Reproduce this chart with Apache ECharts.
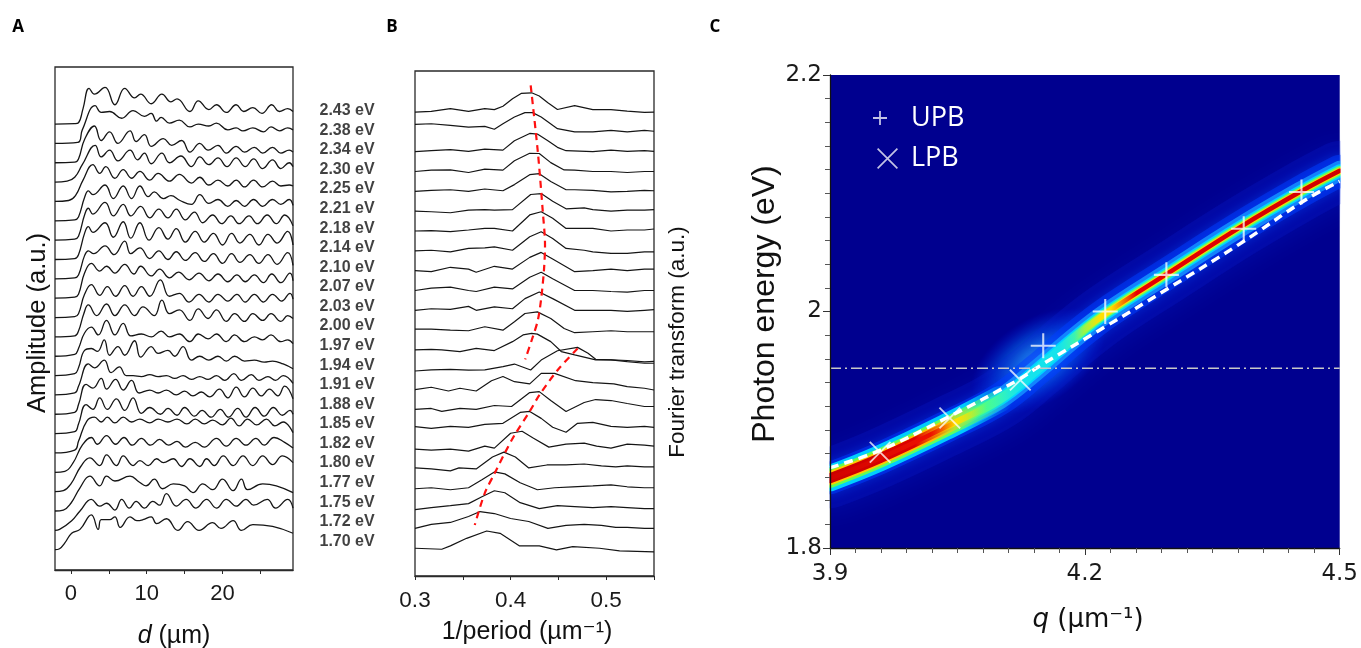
<!DOCTYPE html>
<html><head><meta charset="utf-8">
<script src="https://cdn.jsdelivr.net/npm/echarts@6/dist/echarts.min.js"></script>
<style>html,body{margin:0;padding:0;background:#fff}#c{width:1361px;height:648px}</style>
</head><body><div id="c"></div>
<script>
// ---------- Panel labels ----------
const energies = ['2.43','2.38','2.34','2.30','2.25','2.21','2.18','2.14','2.10','2.07','2.03','2.00','1.97','1.94','1.91','1.88','1.85','1.82','1.80','1.77','1.75','1.72','1.70'];

// ---------- Panel A: amplitude vs d (um), offset by trace ----------
const a243 = [[-2.1,0],[0.5,0.02],[1.0,0.07],[1.6,0.8],[2.4,1.85],[3.1,1.55],[4.5,1.9],[5.8,1.0],[7.1,1.85],[8.4,1.35],[9.2,1.55],[10.6,1.05],[12.0,1.55],[13.2,1.15],[14.0,1.3],[15.7,0.65],[16.8,1.2],[18.2,0.75],[19.2,1.0],[20.5,0.6],[21.8,1.0],[22.8,0.65],[24.0,0.85],[25.2,0.55],[26.5,1.0],[27.5,0.65],[28.6,0.8],[29.3,0.65]];
const a238 = [[-2.1,0],[0.9,0.05],[1.5,0.7],[3.2,1.95],[4.0,1.6],[5.1,1.65],[6.7,1.3],[8.2,1.7],[9.7,1.4],[10.6,1.55],[11.3,1.15],[11.9,1.35],[13.0,1.05],[14.3,1.2],[15.7,0.85],[16.8,1.0],[18.2,0.9],[19.2,1.05],[20.7,0.7],[21.8,0.8],[22.7,0.65],[24.0,0.8],[25.4,0.6],[26.4,0.85],[27.5,0.65],[28.6,0.8],[29.3,0.7]];
const a234 = [[-2.1,0],[0.5,0.03],[1.0,0.2],[1.8,1.2],[3.1,1.9],[4.0,1.15],[5.1,1.6],[6.2,1.0],[7.8,1.65],[8.6,1.1],[9.7,1.45],[10.6,0.85],[12.2,1.25],[13.3,0.9],[14.6,1.15],[15.7,0.55],[17.0,1.0],[18.1,0.65],[19.4,0.9],[20.5,0.5],[21.8,0.85],[22.9,0.55],[24.2,0.8],[25.3,0.5],[26.6,0.8],[27.7,0.5],[28.8,0.65],[29.3,0.55]];
const a230 = [[-2.1,0],[-0.5,0.05],[0.5,0.25],[1.5,0.9],[3.2,1.9],[4.0,1.3],[5.1,1.65],[6.2,1.1],[7.8,1.65],[8.8,1.15],[9.7,1.5],[10.6,0.95],[12.0,1.5],[13.0,1.0],[14.5,1.35],[15.9,0.8],[17.0,1.3],[18.2,0.9],[19.4,1.25],[20.6,0.8],[21.8,1.25],[23.0,0.8],[24.1,1.2],[25.3,0.7],[26.6,1.15],[27.7,0.7],[28.8,1.0],[29.3,0.8]];
const a225 = [[-2.1,0],[-0.3,0.05],[0.6,0.3],[1.6,1.1],[2.9,1.9],[3.8,1.45],[4.6,1.8],[5.8,1.2],[6.9,1.65],[8.0,1.2],[9.1,1.55],[10.4,1.1],[11.5,1.45],[13.0,1.05],[14.3,1.4],[15.9,0.95],[17.0,1.25],[18.2,0.85],[19.4,1.1],[20.7,0.8],[21.8,1.1],[22.9,0.75],[24.1,1.1],[25.3,0.75],[26.6,1.05],[27.7,0.8],[28.8,0.85],[29.3,0.8]];
const a221 = [[-2.1,0],[0.5,0.05],[1.0,0.2],[1.8,1.2],[2.3,1.55],[2.9,1.35],[4.5,1.85],[5.6,1.15],[6.9,1.8],[8.0,1.15],[9.1,1.8],[10.2,1.25],[11.0,1.5],[12.2,1.15],[13.2,1.3],[14.4,1.05],[15.9,0.85],[17.0,1.35],[18.2,0.9],[19.4,1.1],[20.7,0.75],[21.8,1.05],[22.9,0.75],[24.1,1.1],[25.3,0.75],[26.6,1.1],[27.7,0.85],[28.8,1.1],[29.3,0.8]];
const a218 = [[-2.1,0],[0.5,0.05],[1.0,0.2],[1.8,1.3],[2.3,1.65],[2.9,1.35],[4.5,1.95],[5.6,1.25],[6.9,1.85],[7.9,1.25],[9.2,1.75],[10.4,1.15],[11.6,1.6],[12.8,1.15],[13.9,1.6],[15.1,1.05],[16.3,1.45],[17.4,0.9],[18.7,1.3],[19.9,0.85],[21.1,1.25],[22.2,0.85],[23.5,1.25],[24.6,0.85],[25.9,1.3],[27.1,0.85],[28.2,1.3],[29.3,0.75]];
const a214 = [[-2.1,0],[0.5,0.05],[1.0,0.25],[1.8,1.35],[2.3,1.7],[2.9,1.4],[4.5,1.9],[5.6,1.15],[6.9,1.95],[7.9,1.1],[9.1,1.9],[10.3,1.0],[11.6,1.65],[12.8,1.05],[13.9,1.6],[15.1,0.9],[16.4,1.45],[17.6,0.9],[18.8,1.35],[20.0,0.75],[21.2,1.35],[22.3,0.85],[23.6,1.3],[24.8,0.75],[26.0,1.3],[27.2,0.85],[28.6,1.45],[29.3,0.75]];
const a210 = [[-2.1,0],[0.5,0.05],[1.0,0.2],[1.8,1.2],[2.3,1.45],[3.0,1.3],[4.5,1.7],[5.7,1.25],[7.1,1.95],[7.9,1.3],[9.1,1.6],[10.4,1.05],[11.6,1.45],[12.8,1.0],[13.9,1.4],[15.1,0.95],[16.4,1.35],[17.6,0.9],[18.8,1.3],[20.0,0.8],[21.2,1.3],[22.3,0.85],[23.6,1.25],[24.8,0.8],[26.0,1.25],[27.2,0.75],[28.6,1.35],[29.3,0.7]];
const a207 = [[-2.1,0],[0.5,0.05],[1.0,0.2],[1.8,1.3],[2.7,1.8],[3.8,1.4],[4.7,1.65],[5.8,1.3],[7.1,1.75],[8.3,1.25],[9.2,1.65],[10.6,1.15],[11.7,1.5],[13.0,1.05],[14.2,1.35],[15.6,0.95],[16.9,1.3],[18.2,0.9],[19.4,1.25],[20.7,0.85],[21.9,1.2],[23.0,0.85],[24.2,1.2],[25.4,0.8],[26.5,1.25],[27.7,0.8],[28.9,1.3],[29.3,0.9]];
const a203 = [[-2.1,0],[0.5,0.05],[1.0,0.2],[1.8,1.2],[2.7,1.7],[3.8,1.15],[4.8,1.6],[5.9,1.1],[7.1,1.65],[8.2,1.1],[9.3,1.6],[10.4,1.1],[11.8,1.95],[13.0,1.1],[14.3,1.25],[15.6,0.8],[16.9,1.2],[18.2,0.8],[19.4,1.2],[20.7,0.85],[21.9,1.2],[23.0,0.8],[24.2,1.2],[25.4,0.8],[26.6,1.2],[27.8,0.85],[28.9,1.25],[29.3,0.95]];
const a200 = [[-2.1,0],[0.5,0.05],[1.0,0.3],[1.7,1.2],[2.3,1.65],[3.4,1.1],[4.7,1.7],[5.8,1.1],[7.1,1.65],[8.4,1.1],[9.5,1.55],[11.0,1.1],[12.0,1.9],[13.0,1.2],[14.3,1.4],[15.7,0.85],[16.8,1.45],[18.1,0.95],[19.2,1.4],[20.5,0.8],[21.6,1.2],[22.9,0.8],[24.0,1.2],[25.3,0.85],[26.4,1.2],[27.7,0.8],[28.6,1.1],[29.3,0.95]];
const a197 = [[-2.1,0],[0.5,0.1],[1.0,0.4],[1.8,1.2],[2.7,1.5],[3.6,1.1],[4.7,1.85],[5.8,1.1],[6.9,1.7],[7.9,1.05],[9.3,1.15],[10.6,1.0],[11.9,1.3],[13.0,1.0],[14.3,1.15],[15.7,0.75],[16.8,1.15],[18.1,0.9],[19.2,1.15],[20.5,0.75],[21.6,1.1],[22.9,0.75],[24.2,1.0],[25.3,0.85],[26.4,1.1],[27.7,0.75],[28.6,0.85],[29.3,0.65]];
const a194 = [[-2.1,0],[0.5,0.1],[1.0,0.4],[1.8,1.3],[2.7,1.4],[3.5,1.25],[4.4,1.85],[5.1,1.05],[6.2,1.5],[7.1,1.05],[8.4,1.8],[9.2,0.95],[10.6,1.5],[11.5,1.15],[12.8,1.3],[13.7,1.0],[14.8,1.5],[15.9,0.8],[17.0,1.0],[18.2,0.8],[19.4,1.0],[20.5,0.75],[21.6,1.0],[22.9,0.75],[24.2,0.8],[25.5,0.7],[26.6,0.75],[28.0,0.6],[29.3,0.35]];
const a191 = [[-2.1,0],[0.5,0.1],[1.0,0.45],[2.3,1.6],[3.1,1.4],[4.4,1.8],[5.3,1.15],[6.4,1.45],[7.3,1.0],[8.2,1.0],[9.3,0.95],[10.4,1.05],[11.5,0.95],[12.6,1.0],[13.7,0.85],[14.8,1.0],[15.9,0.8],[17.0,0.95],[18.1,0.8],[19.2,1.0],[20.3,0.75],[21.5,1.1],[22.5,0.75],[23.8,1.05],[24.8,0.75],[26.0,0.95],[27.0,0.75],[28.0,1.0],[29.3,0.6]];
const a188 = [[-2.1,0],[0.5,0.1],[1.0,0.5],[2.0,1.55],[2.9,1.35],[4.0,1.85],[4.7,1.3],[5.9,1.8],[6.9,1.25],[8.0,1.75],[9.0,1.1],[10.4,1.25],[11.5,1.1],[12.6,1.25],[13.9,1.0],[15.0,1.2],[16.1,0.95],[17.2,1.15],[18.3,0.9],[19.6,1.3],[20.7,0.85],[21.8,1.4],[22.9,0.9],[24.0,1.35],[25.1,0.95],[26.2,1.3],[27.3,0.95],[28.2,1.45],[29.3,0.8]];
const a185 = [[-2.1,0],[0.5,0.1],[1.0,0.5],[2.0,1.5],[2.9,1.25],[3.8,1.85],[4.8,1.25],[6.0,1.8],[7.1,1.2],[8.2,1.85],[9.3,1.05],[10.4,1.35],[11.8,1.0],[12.8,1.3],[14.0,0.95],[15.0,1.35],[16.3,0.9],[17.3,1.2],[18.5,0.85],[19.7,1.25],[20.8,0.85],[22.0,1.3],[23.1,0.85],[24.3,1.35],[25.5,0.9],[26.7,1.35],[27.9,0.95],[28.9,1.2],[29.3,1.0]];
const a182 = [[-2.1,0],[0.5,0.15],[1.0,0.6],[2.1,1.65],[3.1,1.85],[4.0,1.6],[4.8,1.85],[5.8,1.55],[6.9,1.85],[8.0,1.6],[9.1,1.75],[10.4,1.55],[11.5,1.75],[12.8,1.6],[14.0,1.75],[15.3,1.5],[16.4,1.75],[17.6,1.5],[18.7,1.7],[20.0,1.45],[21.1,1.8],[22.2,1.4],[23.3,1.75],[24.5,1.45],[25.8,1.75],[26.9,1.4],[28.0,1.6],[29.3,1.05]];
const a180 = [[-2.1,0],[-0.8,0.05],[0.3,0.5],[1.5,1.4],[2.7,1.8],[3.5,1.45],[4.7,1.9],[5.9,1.45],[7.0,1.8],[8.1,1.4],[9.3,1.75],[10.5,1.4],[11.7,1.7],[12.9,1.4],[14.0,1.6],[15.1,1.3],[16.4,1.55],[17.6,1.3],[19.2,1.75],[20.5,1.35],[21.8,1.75],[23.1,1.4],[24.4,1.75],[25.5,1.4],[26.8,1.8],[28.2,1.55],[29.3,1.25]];
const a177 = [[-2.1,0],[-1.0,0.05],[0.0,0.4],[1.3,1.3],[2.5,1.75],[3.8,1.35],[4.7,1.9],[6.0,1.35],[6.9,1.85],[8.2,1.35],[9.1,1.6],[10.2,1.35],[11.3,1.7],[12.2,1.5],[13.5,1.7],[14.6,1.3],[15.7,1.7],[17.0,1.3],[17.9,1.7],[18.9,1.35],[20.1,1.85],[21.4,1.35],[22.7,1.85],[24.0,1.35],[25.3,1.85],[26.6,1.4],[27.9,1.85],[29.3,1.5]];
const a175 = [[-2.1,0],[-1.0,0.05],[0.0,0.4],[1.2,1.2],[2.5,1.8],[3.8,1.3],[4.7,1.8],[5.8,1.55],[7.8,1.8],[9.0,1.5],[9.9,1.3],[11.0,1.65],[12.1,1.15],[13.5,1.4],[15.0,1.3],[16.1,0.95],[17.4,1.4],[18.7,1.1],[20.0,1.65],[21.4,1.05],[22.5,1.65],[23.3,1.1],[25.3,1.4],[27.1,1.3],[29.3,0.95]];
const a172 = [[-2.1,0],[-1.5,0.05],[0.1,0.5],[1.2,1.0],[2.7,1.6],[3.8,1.25],[4.7,1.4],[5.8,1.05],[6.7,1.6],[7.7,1.15],[8.6,1.5],[9.7,1.15],[10.8,1.5],[11.7,1.3],[12.6,1.9],[13.9,1.25],[15.2,1.6],[16.5,1.15],[17.9,1.6],[19.2,1.15],[20.5,1.6],[21.8,1.25],[23.1,1.6],[24.1,1.3],[25.9,1.6],[27.0,1.15],[28.6,1.6],[29.3,1.15]];
const a170 = [[-2.1,0],[-1.5,0.05],[-0.8,0.35],[0.1,0.85],[1.2,1.05],[2.7,1.8],[3.6,1.05],[4.0,1.55],[5.1,1.55],[5.8,1.7],[6.5,1.15],[7.8,1.7],[8.7,1.5],[9.5,1.55],[10.6,1.7],[11.3,1.35],[12.6,1.6],[14.1,1.0],[15.4,1.45],[16.9,1.0],[18.7,1.4],[19.8,1.1],[21.4,1.5],[22.5,1.0],[24.0,1.3],[26.6,1.2],[29.3,0.85]];
const tracesA = [a243,a238,a234,a230,a225,a221,a218,a214,a210,a207,a203,a200,a197,a194,a191,a188,a185,a182,a180,a177,a175,a172,a170];
const ticksA = [0,5,10,15,20,25];
const labelsA = [0,10,20];

// ---------- Panel B: Fourier transform vs 1/period ----------
const b243 = [[0.3,0],[0.317,0.03],[0.337,0.17],[0.356,0.03],[0.373,0.17],[0.383,0.12],[0.392,0.29],[0.402,0.67],[0.411,0.94],[0.422,0.97],[0.43,0.81],[0.439,0.47],[0.449,0.13],[0.467,0.32],[0.486,0.12],[0.505,0.12],[0.522,0.05],[0.54,-0.02],[0.55,0]];
const b238 = [[0.3,0.38],[0.317,0.41],[0.337,0.33],[0.356,0.24],[0.373,0.28],[0.383,0.13],[0.392,0.41],[0.404,0.75],[0.415,0.97],[0.423,0.97],[0.432,0.75],[0.449,0.16],[0.467,0],[0.486,0],[0.505,0.08],[0.522,0],[0.54,0.08],[0.55,0.03]];
const b234 = [[0.3,0],[0.317,0.05],[0.337,0.1],[0.356,0.02],[0.373,0.13],[0.392,0.08],[0.404,0.55],[0.42,0.92],[0.428,0.89],[0.439,0.55],[0.449,0.22],[0.458,0.05],[0.486,0],[0.505,0.08],[0.522,0.02],[0.54,0.05],[0.55,0.02]];
const b230 = [[0.3,0],[0.317,0.07],[0.337,0.08],[0.356,-0.05],[0.373,0.12],[0.392,0.07],[0.404,0.54],[0.42,0.92],[0.43,0.91],[0.442,0.45],[0.456,0.08],[0.467,0.07],[0.486,0],[0.505,0],[0.522,-0.05],[0.54,0],[0.55,0]];
const b225 = [[0.3,0],[0.317,0.05],[0.337,0.08],[0.356,0],[0.373,0.12],[0.392,0.03],[0.404,0.34],[0.42,0.84],[0.43,0.89],[0.442,0.5],[0.458,0.08],[0.467,0.08],[0.486,0.05],[0.505,-0.03],[0.522,0],[0.54,0.05],[0.55,0.03]];
const b221 = [[0.3,0],[0.317,-0.03],[0.337,-0.08],[0.356,0.05],[0.373,0.08],[0.383,0.05],[0.402,0.08],[0.421,0.84],[0.432,0.89],[0.444,0.5],[0.458,0.12],[0.477,0.17],[0.486,0.08],[0.505,0],[0.522,0.05],[0.54,0.05],[0.55,0.08]];
const b218 = [[0.3,0],[0.317,0.02],[0.337,-0.03],[0.356,0.05],[0.373,0.13],[0.383,0.13],[0.402,0],[0.42,0.81],[0.432,0.97],[0.444,0.64],[0.458,0.13],[0.477,0.13],[0.486,0.13],[0.505,0],[0.522,0.05],[0.54,0.05],[0.55,0.1]];
const b214 = [[0.3,0],[0.317,0.03],[0.337,-0.05],[0.356,0.12],[0.373,0.15],[0.383,0.2],[0.402,0.03],[0.42,0.71],[0.432,0.96],[0.444,0.62],[0.458,0.12],[0.477,0.03],[0.486,-0.05],[0.505,-0.13],[0.522,-0.13],[0.54,-0.05],[0.55,-0.05]];
const b210 = [[0.3,0],[0.317,-0.05],[0.337,0.17],[0.356,0.08],[0.364,-0.08],[0.383,0.22],[0.402,0.08],[0.42,0.67],[0.432,0.92],[0.444,0.59],[0.467,-0.05],[0.486,0],[0.505,0.08],[0.522,0],[0.54,0.08],[0.55,0.08]];
const b207 = [[0.3,0],[0.317,0.12],[0.337,0.17],[0.356,0],[0.364,-0.05],[0.383,0.17],[0.402,0.08],[0.42,0.67],[0.432,0.92],[0.444,0.59],[0.467,0],[0.486,0],[0.505,-0.05],[0.522,-0.08],[0.54,0],[0.55,0]];
const b203 = [[0.3,0],[0.317,0.08],[0.337,0.05],[0.356,0.2],[0.364,0],[0.383,0.17],[0.402,0.08],[0.415,0.59],[0.43,0.92],[0.444,0.59],[0.467,0],[0.486,0],[0.505,0],[0.522,-0.05],[0.54,0],[0.55,0.03]];
const b200 = [[0.3,0.05],[0.317,0.05],[0.337,0],[0.356,-0.03],[0.373,0.17],[0.392,0],[0.404,0.42],[0.415,0.84],[0.428,0.92],[0.442,0.59],[0.456,0.08],[0.467,-0.13],[0.486,-0.08],[0.505,-0.03],[0.522,-0.08],[0.54,-0.08],[0.55,-0.08]];
const b197 = [[0.3,0],[0.317,0.03],[0.328,0],[0.347,-0.08],[0.364,0.08],[0.383,-0.03],[0.402,0.42],[0.413,0.76],[0.422,0.84],[0.428,0.8],[0.442,0.42],[0.453,-0.08],[0.467,-0.25],[0.489,-0.5],[0.505,-0.5],[0.522,-0.53],[0.54,-0.6],[0.55,-0.58]];
const b194 = [[0.3,-0.06],[0.317,0],[0.337,0.02],[0.356,-0.02],[0.373,0],[0.392,0.16],[0.404,0.29],[0.421,-0.01],[0.432,0.49],[0.449,0.96],[0.47,1.13],[0.481,0.83],[0.489,0.53],[0.505,0.5],[0.522,0.41],[0.54,0.33],[0.55,0.33]];
const b191 = [[0.3,0],[0.317,0.12],[0.335,-0.07],[0.347,0.07],[0.364,-0.07],[0.38,0.45],[0.392,0.66],[0.404,0.4],[0.42,0.29],[0.432,0.82],[0.446,0.82],[0.468,0.45],[0.486,0.35],[0.508,0.29],[0.522,0.15],[0.54,0.07],[0.55,-0.02]];
const b188 = [[0.3,0],[0.317,0.05],[0.328,-0.1],[0.347,0.05],[0.364,0],[0.383,0.2],[0.401,0.15],[0.42,0.85],[0.43,0.9],[0.442,0.45],[0.458,-0.1],[0.477,0.35],[0.489,0.5],[0.505,0.45],[0.522,0.3],[0.54,0.15],[0.55,0.15]];
const b185 = [[0.3,0.13],[0.317,0.05],[0.337,0.15],[0.356,0.1],[0.373,0.25],[0.392,0.3],[0.41,0.85],[0.42,0.9],[0.432,0.55],[0.444,0.1],[0.458,-0.15],[0.47,0.3],[0.486,0.35],[0.505,0.15],[0.522,0.1],[0.54,0.15],[0.55,0.1]];
const b182 = [[0.3,0],[0.317,-0.05],[0.337,0],[0.356,-0.1],[0.373,0.15],[0.383,0.05],[0.4,0.8],[0.412,0.9],[0.424,0.55],[0.44,0.1],[0.458,0.25],[0.477,0.3],[0.49,0.15],[0.505,0.05],[0.522,0.25],[0.54,0.2],[0.55,0.15]];
const b180 = [[0.3,0.05],[0.317,0],[0.337,-0.1],[0.346,0.05],[0.364,0],[0.381,0.6],[0.393,0.85],[0.405,0.6],[0.419,0.05],[0.438,0.2],[0.458,0.2],[0.477,0.25],[0.495,0.15],[0.51,0.1],[0.522,0.15],[0.54,0.1],[0.55,0.1]];
const b177 = [[0.3,0],[0.317,0.05],[0.337,-0.05],[0.356,0.05],[0.37,0.45],[0.383,0.85],[0.394,0.75],[0.41,0.3],[0.428,-0.05],[0.446,0.05],[0.465,0.1],[0.486,0.15],[0.505,0.2],[0.522,0.1],[0.54,0.05],[0.55,0.05]];
const b175 = [[0.3,-0.05],[0.317,0.05],[0.337,0.15],[0.356,0.25],[0.37,0.6],[0.383,0.9],[0.394,0.8],[0.41,0.3],[0.43,0],[0.449,0.15],[0.467,0.1],[0.486,0.05],[0.505,0.1],[0.522,0.05],[0.54,0],[0.55,0]];
const b172 = [[0.3,0],[0.317,0.2],[0.337,0.3],[0.356,0.6],[0.368,0.85],[0.383,0.75],[0.4,0.5],[0.419,0.35],[0.439,0],[0.458,0.15],[0.477,0.2],[0.495,0.15],[0.51,0.05],[0.522,0.05],[0.54,0],[0.55,0]];
const b170 = [[0.3,0],[0.328,-0.05],[0.337,0.12],[0.354,0.5],[0.375,0.87],[0.389,0.75],[0.409,0.12],[0.43,0.12],[0.448,-0.08],[0.465,0.08],[0.493,0],[0.514,-0.13],[0.55,-0.18]];
const tracesB = [b243,b238,b234,b230,b225,b221,b218,b214,b210,b207,b203,b200,b197,b194,b191,b188,b185,b182,b180,b177,b175,b172,b170];
const guideUpper = [[0.421,23.35],[0.4285,19.98],[0.4337,16.96],[0.436,15.3],[0.435,14.1],[0.432,12.6],[0.4285,11.5],[0.4233,10.67],[0.4153,9.53]];
const guideLower = [[0.4701,10.07],[0.4493,8.99],[0.4302,7.73],[0.4198,6.89],[0.4042,5.71],[0.3938,4.79],[0.3833,3.78],[0.3729,2.77],[0.3625,1.17]];
const ticksB = [0.3,0.35,0.4,0.45,0.5,0.55];
const labelsB = [0.3,0.4,0.5];

// ---------- Panel C: dispersion map ----------
const ridge = [[3.9,1.859],[3.959,1.876],[4.041,1.904],[4.1,1.926],[4.144,1.951],[4.188,1.978],[4.226,1.999],[4.297,2.032],[4.382,2.071],[4.453,2.101],[4.5,2.119]];
const ridgeLeft = [[3.9,1.859],[3.959,1.876],[4.041,1.904],[4.1,1.926]];
const crossing = [[4.145,1.958]];
const fitCurve = [[3.9,1.868],[3.957,1.882],[4.04,1.911],[4.121,1.942],[4.147,1.954],[4.226,1.988],[4.297,2.019],[4.382,2.057],[4.461,2.095],[4.5,2.110]];
const upb = [[4.151,1.971],[4.224,2.0],[4.296,2.031],[4.387,2.070],[4.455,2.101]];
const lpb = [[3.959,1.881],[4.041,1.910],[4.124,1.942]];
const excitonE = 1.952;
const qRange = [3.9, 4.5];
</script>
<script>
const chart = echarts.init(document.getElementById('c'), null, {renderer:'canvas'});
const SANS = 'Liberation Sans, Arial, Helvetica, DejaVu Sans, sans-serif';
const lin = (stops) => ({type:'linear', x:0, y:0, x2:1, y2:0, colorStops: stops.map(s=>({offset:s[0], color:s[1]}))});
const plusSym = 'path://M11,0 H13 V11 H24 V13 H13 V24 H11 V13 H0 V11 H11 Z';
const crossSym = 'path://M0,1.3 L1.3,0 L22,20.7 L20.7,22 Z M20.7,0 L22,1.3 L1.3,22 L0,20.7 Z';
const legPlus = 'path://M0,0 L0.01,0 L0,0.01 Z M30,22 L29.99,22 L30,21.99 Z M10.1,4 H11.9 V10.1 H18 V11.9 H11.9 V18 H10.1 V11.9 H4 V10.1 H10.1 Z';
const legCross = 'path://M0,0 L0.01,0 L0,0.01 Z M30,22 L29.99,22 L30,21.99 Z M8,2.2 L9.2,1 L29,20.8 L27.8,22 Z M27.8,1 L29,2.2 L9.2,22 L8,20.8 Z';

const series = [];
tracesA.forEach((tr, i) => series.push({
  type:'line', xAxisIndex:0, yAxisIndex:0, silent:true, symbol:'none', smooth:0.45,
  data: tr.map(p => [p[0], p[1] + (22 - i)]),
  lineStyle:{color:'#151515', width:1.3}
}));
series.push({
  type:'scatter', xAxisIndex:1, yAxisIndex:1, silent:true, symbolSize:1,
  itemStyle:{color:'rgba(0,0,0,0)'},
  data: energies.map((e,i) => [0.2, 22 - i]),
  label:{show:true, position:'right', distance:3, formatter: p => energies[p.dataIndex] + ' eV',
         fontWeight:'bold', fontSize:16, fontFamily:SANS, color:'#111'}
});
tracesB.forEach((tr, i) => series.push({
  type:'line', xAxisIndex:2, yAxisIndex:2, silent:true, symbol:'none',
  data: tr.map(p => [p[0], p[1] + (22 - i)]),
  lineStyle:{color:'#151515', width:1.2}
}));
[guideUpper, guideLower].forEach(g => series.push({
  type:'line', xAxisIndex:2, yAxisIndex:2, silent:true, symbol:'none', smooth:0.3, z:5,
  data:g, lineStyle:{color:'#ff1010', width:2.2, type:[7,5]}
}));

// Panel C layers
const cLine = (data, width, color, extra) => ({
  type:'line', xAxisIndex:3, yAxisIndex:3, silent:true, symbol:'none', smooth:0.4, data,
  lineStyle: Object.assign({width, color, cap:'round', join:'round'}, extra || {})
});
series.push(cLine(ridge, 60, 'rgba(10,30,220,0.22)', {shadowBlur:24, shadowColor:'rgba(0,50,255,0.8)', shadowOffsetY:5}));
series.push(cLine(ridge, 32, 'rgba(0,60,255,0.5)', {shadowBlur:10, shadowColor:'rgba(0,80,255,0.7)'}));
series.push({type:'scatter', xAxisIndex:3, yAxisIndex:3, silent:true, symbol:'circle', symbolSize:[150,85], symbolRotate:32,
  data: crossing,
  itemStyle:{color:{type:'radial', x:0.5, y:0.5, r:0.5, colorStops:[
    {offset:0, color:'rgba(120,240,255,1)'},{offset:0.3, color:'rgba(40,200,255,0.85)'},{offset:0.65, color:'rgba(0,110,255,0.5)'},{offset:1, color:'rgba(0,40,255,0)'}]}}});
series.push(cLine(ridge, 20, 'rgba(20,140,255,0.9)'));
series.push(cLine(ridgeLeft, 26, lin([[0,'#00d0ff'],[0.75,'#00c8ff'],[1,'rgba(0,200,255,0)']])));
series.push(cLine(ridge, 13, '#00d4ff'));
series.push(cLine(ridgeLeft, 19, lin([[0,'#60ff50'],[0.7,'#60ff60'],[1,'rgba(80,255,120,0)']])));
series.push(cLine(ridge, 9.5, lin([[0,'#60ff60'],[0.3,'#50ff80'],[0.38,'rgba(60,255,200,0.35)'],[0.45,'rgba(60,255,200,0.35)'],[0.5,'#60ff70'],[1,'#60ff60']])));
series.push(cLine(ridgeLeft, 14, lin([[0,'#ffd000'],[0.6,'#ffc000'],[0.85,'rgba(255,220,0,0)'],[1,'rgba(255,220,0,0)']])));
series.push(cLine(ridge, 6.5, lin([[0,'#ffd000'],[0.25,'#ffe000'],[0.31,'rgba(255,230,0,0)'],[0.48,'rgba(255,230,0,0)'],[0.53,'#ffe000'],[1,'#ffd000']])));
series.push(cLine(ridgeLeft, 10, lin([[0,'#c80000'],[0.5,'#dd0000'],[0.72,'rgba(240,60,0,0)'],[1,'rgba(240,60,0,0)']])));
series.push(cLine(ridge, 4.5, lin([[0,'#d00000'],[0.2,'#ee1000'],[0.25,'rgba(240,60,0,0)'],[0.55,'rgba(240,40,0,0)'],[0.6,'#e80000'],[1,'#d00000']])));
series.push(cLine(fitCurve, 3.5, '#ffffff', {type:[9,6], cap:'butt'}));
series.push({type:'line', xAxisIndex:3, yAxisIndex:3, silent:true, symbol:'none',
  data: qRange.map(q => [q, excitonE]), lineStyle:{color:'#c8c8c8', width:1.6, type:[11,4,2,4]}, z:6});
series.push({name:'UPB', type:'scatter', xAxisIndex:3, yAxisIndex:3, silent:true, symbol:plusSym, symbolSize:25,
  data: upb, itemStyle:{color:'rgba(255,255,255,0.95)'}, z:7});
series.push({name:'LPB', type:'scatter', xAxisIndex:3, yAxisIndex:3, silent:true, symbol:crossSym, symbolSize:22,
  data: lpb, itemStyle:{color:'rgba(255,255,255,0.95)'}, z:7});

const tickLab = (size, fam) => ({fontSize:size, fontFamily:fam, color:'#1a1a1a'});
const option = {
  animation:false,
  backgroundColor:'#ffffff',
  grid:[
    {left:55, top:67, width:238, height:503, show:true, borderColor:'#2a2a2a', borderWidth:1.3},
    {left:300, top:67, width:80, height:503},
    {left:415, top:71, width:239, height:505, show:true, borderColor:'#2a2a2a', borderWidth:1.3},
    {left:830, top:75, width:510, height:473, show:true, borderWidth:0, backgroundColor:'#00008f'}
  ],
  xAxis:[
    {gridIndex:0, type:'value', min:-2.1, max:29.3, splitLine:{show:false},
     axisLine:{show:true, onZero:false, lineStyle:{color:'#2a2a2a', width:1.3}},
     axisTick:{show:true, length:4, customValues:ticksA, lineStyle:{color:'#2a2a2a'}},
     axisLabel:{customValues:labelsA, margin:13, ...tickLab(22, SANS)}},
    {gridIndex:1, type:'value', min:0, max:1, show:false},
    {gridIndex:2, type:'value', min:0.3, max:0.55, splitLine:{show:false},
     axisLine:{show:true, onZero:false, lineStyle:{color:'#2a2a2a', width:1.3}},
     axisTick:{show:true, length:4, customValues:ticksB, lineStyle:{color:'#2a2a2a'}},
     axisLabel:{customValues:labelsB, margin:13, formatter:v => (+v).toFixed(1), ...tickLab(22.5, SANS)}},
    {gridIndex:3, type:'value', min:3.9, max:4.5, interval:0.3, splitLine:{show:false}, z:10,
     axisLine:{show:true, onZero:false, lineStyle:{color:'#111', width:1.3}},
     axisTick:{show:true, length:7, lineStyle:{color:'#333'}},
     minorTick:{show:true, splitNumber:10, length:5, lineStyle:{color:'#555'}},
     axisLabel:{margin:15, ...tickLab(23, 'DejaVu Sans, sans-serif')}}
  ],
  yAxis:[
    {gridIndex:0, type:'value', min:-1.05, max:24.95, show:false},
    {gridIndex:1, type:'value', min:-1.47, max:24.24, show:false},
    {gridIndex:2, type:'value', min:-1.4, max:24.07, show:false},
    {gridIndex:3, type:'value', min:1.8, max:2.2, interval:0.2, splitLine:{show:false}, z:10,
     axisLine:{show:true, onZero:false, lineStyle:{color:'#111', width:1.3}},
     axisTick:{show:true, length:7, lineStyle:{color:'#333'}},
     minorTick:{show:true, splitNumber:10, length:5, lineStyle:{color:'#555'}},
     axisLabel:{margin:8, ...tickLab(23, 'DejaVu Sans, sans-serif')}}
  ],
  legend:{left:864, top:99, orient:'vertical', itemWidth:30, itemHeight:22, itemGap:12, selectedMode:false, z:10,
    textStyle:{color:'#ffffff', fontSize:27, fontFamily:'Open Sans, Lato, sans-serif', lineHeight:28, padding:[0,0,0,7]},
    data:[{name:'UPB', icon:legPlus},{name:'LPB', icon:legCross}]},
  graphic:[
    {type:'rect', z:8, shape:{x:782, y:60, width:47.4, height:500}, style:{fill:'#ffffff'}, silent:true},
    {type:'rect', z:8, shape:{x:1340.6, y:60, width:21, height:500}, style:{fill:'#ffffff'}, silent:true},
    {type:'text', x:18, y:27, style:{text:'A', fontSize:17, fontWeight:'bold', fontFamily:'Open Sans, sans-serif', fill:'#000', align:'center', verticalAlign:'middle'}},
    {type:'text', x:392, y:27, style:{text:'B', fontSize:17, fontWeight:'bold', fontFamily:'Open Sans, sans-serif', fill:'#000', align:'center', verticalAlign:'middle'}},
    {type:'text', x:715, y:27, style:{text:'C', fontSize:17, fontWeight:'bold', fontFamily:'Open Sans, sans-serif', fill:'#000', align:'center', verticalAlign:'middle'}},
    {type:'text', x:38, y:323, rotation:Math.PI/2, style:{text:'Amplitude (a.u.)', fontSize:25.5, fontFamily:SANS, fill:'#111', align:'center', verticalAlign:'middle'}},
    {type:'text', x:174, y:636, style:{text:'{i|d} (µm)', fontSize:25, fontFamily:SANS, fill:'#111', align:'center', verticalAlign:'middle',
       rich:{i:{fontStyle:'italic', fontSize:25, fontFamily:SANS, fill:'#111'}}}},
    {type:'text', x:527, y:632, style:{text:'1/period (µm⁻¹)', fontSize:25, fontFamily:SANS, fill:'#111', align:'center', verticalAlign:'middle'}},
    {type:'text', x:678, y:342, rotation:Math.PI/2, style:{text:'Fourier transform (a.u.)', fontSize:22.5, fontFamily:SANS, fill:'#111', align:'center', verticalAlign:'middle'}},
    {type:'text', z:12, x:765, y:304, rotation:Math.PI/2, style:{text:'Photon energy (eV)', fontSize:32, fontFamily:SANS, fill:'#111', align:'center', verticalAlign:'middle'}},
    {type:'text', x:1088, y:620, style:{text:'{i|q} (µm⁻¹)', fontSize:26, fontFamily:'DejaVu Sans, sans-serif', fill:'#111', align:'center', verticalAlign:'middle',
       rich:{i:{fontStyle:'italic', fontSize:26, fontFamily:'DejaVu Sans, sans-serif', fill:'#111'}}}}
  ],
  series
};
chart.setOption(option);
</script>
</body></html>
